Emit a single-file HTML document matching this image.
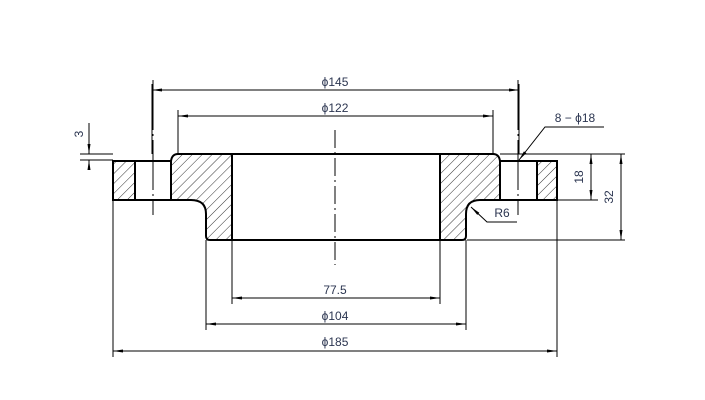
<!DOCTYPE html>
<html><head><meta charset="utf-8"><style>html,body{margin:0;padding:0;background:#fff}svg{display:block}</style></head>
<body>
<svg width="705" height="400" viewBox="0 0 705 400" xmlns="http://www.w3.org/2000/svg">
<defs>
<pattern id="h" patternUnits="userSpaceOnUse" width="7" height="7" patternTransform="rotate(45)">
<line x1="0" y1="0" x2="0" y2="7" stroke="#000" stroke-width="0.8"/>
</pattern>
<marker id="a" markerWidth="10" markerHeight="6" refX="10" refY="3" orient="auto-start-reverse" markerUnits="userSpaceOnUse">
<path d="M0,1.5 L10,3 L0,4.5 Z" fill="#000"/>
</marker>
</defs>
<g fill="url(#h)" stroke="none">
<rect x="113" y="161" width="22" height="39"/>
<rect x="537" y="161" width="20" height="39"/>
<path d="M171,200 L171,161 Q172,154 178,154 L232,154 L232,240 L210,240 Q206,240 206,236 L206,214 Q206,200 191,200 Z"/>
<path d="M500,200 L500,161 Q499,154 493,154 L440,154 L440,240 L462,240 Q466,240 466,236 L466,214 Q466,200 480,200 Z"/>
</g>
<g fill="none" stroke="#000" stroke-width="2">
<path d="M113,161 L171,161 L171,200 L113,200 Z M135,161 L135,200"/>
<path d="M557,161 L500,161 L500,200 L557,200 Z M537,161 L537,200"/>
<path d="M171,161 Q172,154 178,154 L493,154 Q499,154 500,161"/>
<path d="M171,200 L191,200 Q206,200 206,214 L206,236 Q206,240 210,240 L462,240 Q466,240 466,236 L466,214 Q466,200 480,200 L500,200"/>
<path d="M232,154 L232,240 M440,154 L440,240"/>
</g>
<g stroke="#000" stroke-width="1" fill="none">
<path d="M335,130 L335,265" stroke-dasharray="18,4,2,4"/>
<path d="M153,80 L153,215" stroke-dasharray="50,4,2,4"/>
<path d="M518,80 L518,215" stroke-dasharray="50,4,2,4"/>
<!-- extension lines -->
<path d="M152,84 L152,154 M519,84 L519,154 M178,110 L178,154 M493,110 L493,154"/>
<path d="M113,200 L113,357 M557,200 L557,357 M206,240 L206,330 M466,240 L466,330 M232,240 L232,304 M440,240 L440,304"/>
<path d="M500,154 L625,154 M557,200 L598,200 M467,240 L625,240"/>
<path d="M80,154 L113,154 M80,160 L113,160"/>
<!-- dimension lines -->
<path d="M152,90 L519,90" marker-start="url(#a)" marker-end="url(#a)"/>
<path d="M178,116 L493,116" marker-start="url(#a)" marker-end="url(#a)"/>
<path d="M232,298 L440,298" marker-start="url(#a)" marker-end="url(#a)"/>
<path d="M206,324 L466,324" marker-start="url(#a)" marker-end="url(#a)"/>
<path d="M113,351 L557,351" marker-start="url(#a)" marker-end="url(#a)"/>
<path d="M591,154 L591,200" marker-start="url(#a)" marker-end="url(#a)"/>
<path d="M621,154 L621,240" marker-start="url(#a)" marker-end="url(#a)"/>
<path d="M89,123 L89,154" marker-end="url(#a)"/>
<path d="M89,170 L89,160" marker-end="url(#a)"/>
<!-- leaders -->
<path d="M604,127 L545,127 L519,160" marker-end="url(#a)"/>
<path d="M517,222 L487,222 L471,207" marker-end="url(#a)"/>
</g>
<g font-family="'Liberation Sans','DejaVu Sans',sans-serif" font-size="12" fill="#2b3550" text-anchor="middle">
<text x="335" y="86">ϕ145</text>
<text x="335" y="112">ϕ122</text>
<text x="335" y="294">77.5</text>
<text x="335" y="320">ϕ104</text>
<text x="335" y="346">ϕ185</text>
<text x="575" y="122">8 − ϕ18</text>
<text x="502" y="217">R6</text>
<text transform="translate(583,177) rotate(-90)">18</text>
<text transform="translate(613,197) rotate(-90)">32</text>
<text transform="translate(83,134) rotate(-90)">3</text>
</g>
</svg>
</body></html>
